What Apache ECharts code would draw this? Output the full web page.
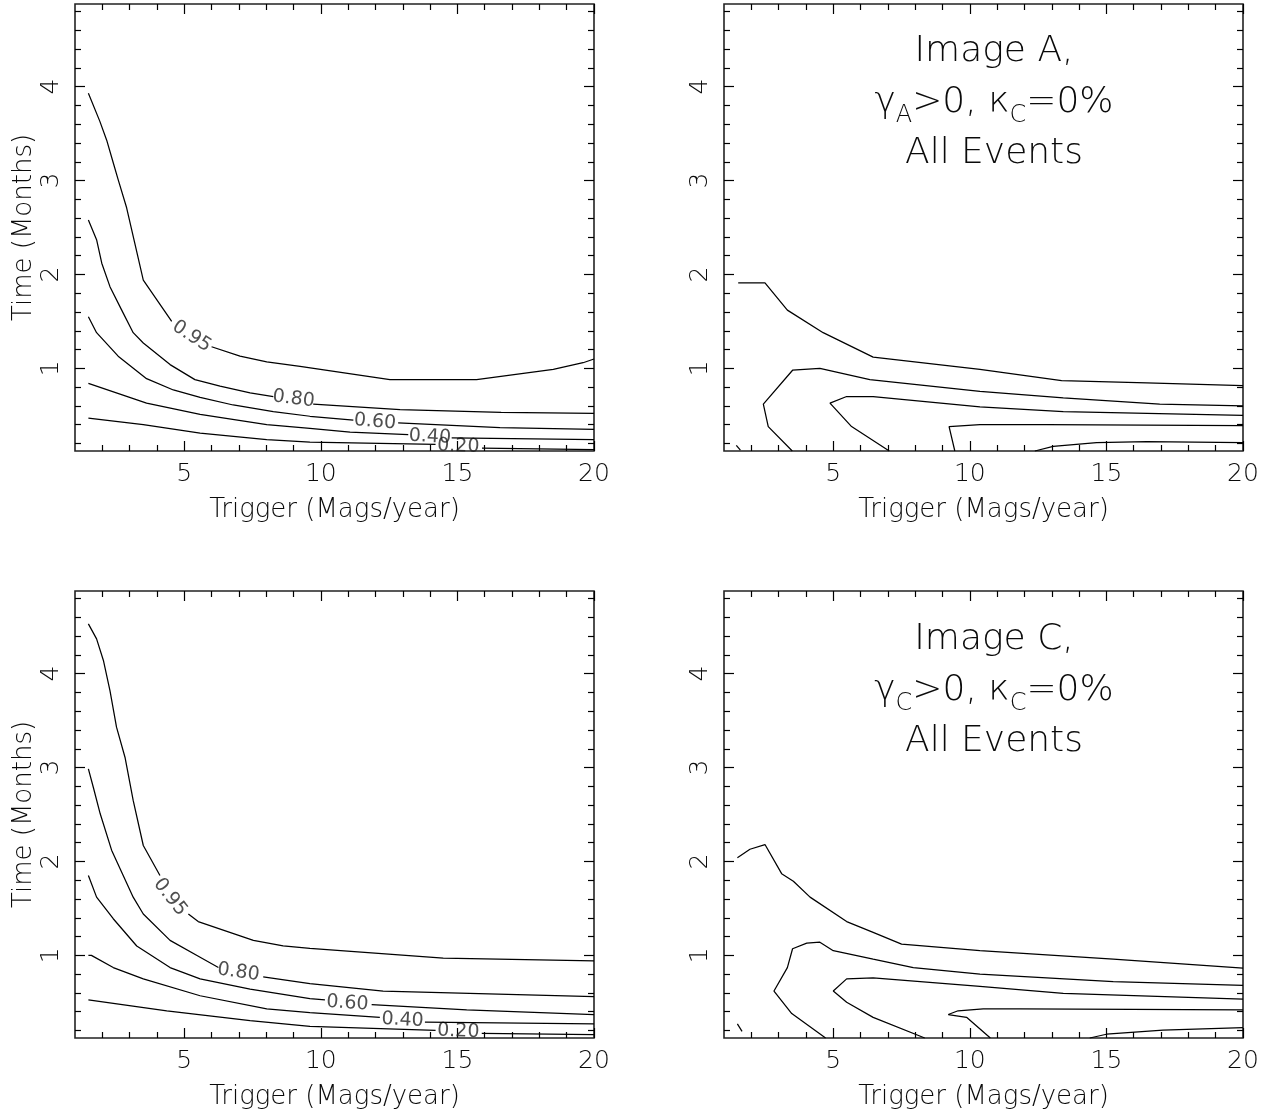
<!DOCTYPE html>
<html>
<head>
<meta charset="utf-8">
<script src="https://cdn.jsdelivr.net/npm/echarts@6/dist/echarts.min.js"></script>
<style>html,body{margin:0;padding:0;background:#fff;}#chart{width:1267px;height:1114px;}</style>
</head>
<body>
<div id="chart"></div>
<script>
// ---------- axis data ----------
const xMin = 1, xMax = 20;
const yMin = 0.12, yMax = 4.88;
const xMajorTicks = [5, 10, 15, 20];
const xMinorTicks = [2, 3, 4, 6, 7, 8, 9, 11, 12, 13, 14, 16, 17, 18, 19];
const yMajorTicks = [1, 2, 3, 4];
const yMinorTicks = [0.2, 0.4, 0.6, 0.8, 1.2, 1.4, 1.6, 1.8, 2.2, 2.4, 2.6, 2.8, 3.2, 3.4, 3.6, 3.8, 4.2, 4.4, 4.6, 4.8];
const xAxisName = 'Trigger (Mags/year)';
const yAxisName = 'Time (Months)';

// ---------- top-left panel contours (null = gap for inline label) ----------
const tl95 = [[1.49,3.93],[1.91,3.63],[2.16,3.43],[2.40,3.19],[2.58,3.01],[2.89,2.71],[3.19,2.33],[3.50,1.94],[4.54,1.50],null,[6.0,1.23],[7.04,1.13],[8.02,1.07],[9.24,1.02],[12.53,0.88],[15.7,0.88],[18.51,0.99],[19.6,1.06],[20,1.10]];
const tl80 = [[1.49,2.58],[1.79,2.37],[1.98,2.12],[2.28,1.87],[2.71,1.62],[3.13,1.38],[3.50,1.27],[4.48,1.04],[5.39,0.88],[6.31,0.81],[7.41,0.74],[8.26,0.70],null,[9.72,0.62],[12.9,0.56],[16.6,0.53],[20,0.52]];
const tl60 = [[1.49,1.55],[1.79,1.38],[2.58,1.13],[3.62,0.89],[4.60,0.77],[5.58,0.69],[6.79,0.61],[8.26,0.54],[9.6,0.49],[11.19,0.45],null,[12.83,0.42],[16.56,0.37],[20,0.35]];
const tl40 = [[1.49,0.84],[3.62,0.63],[5.58,0.51],[8.02,0.40],[9.6,0.36],[11.07,0.32],[13.2,0.295],null,[14.79,0.26],[20,0.24]];
const tl20 = [[1.49,0.47],[3.50,0.40],[5.58,0.31],[8.02,0.24],[9.6,0.215],[14.2,0.19],null,[15.9,0.15],[20,0.135]];
const tlLabelText = ['0.95', '0.80', '0.60', '0.40', '0.20'];
const tlLabelPos = [[5.27,1.34],[9.0,0.675],[11.98,0.43],[13.99,0.27],[15.03,0.17]];
const tlLabelRot = [-33, -7, -5, -3, -2];

// ---------- top-right panel contours ----------
const trA = [[1.52,1.91],[2.50,1.91],[3.32,1.62],[4.63,1.38],[6.46,1.12],[10.37,0.99],[13.36,0.87],[16.47,0.845],[20,0.815]];
const trB = [[3.5,0.12],[2.62,0.38],[2.44,0.62],[3.51,0.98],[4.51,1.00],[6.34,0.88],[10.37,0.755],[13.42,0.685],[16.95,0.62],[20,0.60]];
const trC = [[7.05,0.12],[5.67,0.38],[4.88,0.63],[5.49,0.70],[6.46,0.70],[10.37,0.59],[13.42,0.54],[20,0.50]];
const trD = [[9.45,0.12],[9.24,0.38],[10.37,0.40],[12.81,0.40],[20,0.39]];
const trE = [[12.38,0.12],[13.05,0.17],[14.64,0.21],[16.47,0.22],[20,0.21]];
const trF = [[1.45,0.18],[1.6,0.13]];

// ---------- bottom-left panel contours ----------
const bl95 = [[1.49,4.53],[1.79,4.37],[2.04,4.14],[2.28,3.82],[2.52,3.43],[2.83,3.11],[3.13,2.65],[3.50,2.17],[4.11,1.85],null,[5.15,1.44],[5.51,1.36],[7.53,1.16],[8.62,1.10],[9.6,1.075],[14.48,0.97],[20,0.94]];
const bl80 = [[1.49,2.985],[1.67,2.79],[1.92,2.51],[2.34,2.12],[3.13,1.62],[3.50,1.44],[4.48,1.16],[5.58,0.98],[6.25,0.87],null,[7.89,0.77],[9.6,0.70],[12.28,0.62],[20,0.56]];
const bl60 = [[1.49,1.85],[1.79,1.62],[2.40,1.39],[3.26,1.10],[4.48,0.87],[5.58,0.75],[7.41,0.64],[9.6,0.54],[10.15,0.525],null,[11.86,0.475],[15.34,0.42],[20,0.37]];
const bl40 = [[1.49,1.00],[1.6,1.00],[2.40,0.87],[3.50,0.75],[5.58,0.57],[8.02,0.43],[9.6,0.39],[12.16,0.34],null,[13.81,0.29],[20,0.27]];
const bl20 = [[1.49,0.525],[4.36,0.41],[7.41,0.305],[9.6,0.245],[14.2,0.20],null,[15.89,0.17],[20,0.155]];
const blLabelText = ['0.95', '0.80', '0.60', '0.40', '0.20'];
const blLabelPos = [[4.48,1.62],[6.98,0.82],[10.97,0.49],[12.99,0.31],[15.03,0.19]];
const blLabelRot = [-52, -8, -4, -3, -2];

// ---------- bottom-right panel contours ----------
const brA = [[1.49,2.04],[1.95,2.13],[2.50,2.18],[3.11,1.87],[3.54,1.79],[4.15,1.62],[5.49,1.36],[6.46,1.245],[7.50,1.12],[10.37,1.05],[15.25,0.96],[20,0.865]];
const brB = [[4.72,0.12],[3.48,0.38],[2.83,0.62],[3.32,0.87],[3.51,1.07],[4.03,1.13],[4.51,1.14],[5.0,1.05],[6.46,0.96],[7.93,0.87],[10.37,0.80],[15.25,0.72],[20,0.68]];
const brC = [[8.35,0.12],[6.46,0.34],[5.49,0.50],[5.0,0.62],[5.49,0.75],[6.46,0.76],[10.37,0.67],[13.42,0.595],[20,0.535]];
const brD = [[10.75,0.12],[9.88,0.34],[9.21,0.37],[9.57,0.41],[10.49,0.43],[11.83,0.43],[20,0.42]];
const brE = [[14.39,0.12],[15.0,0.16],[17.07,0.205],[20,0.23]];
const brF = [[1.49,0.27],[1.66,0.19]];

// ---------- panel titles ----------
const trTitle = '{n|Image A,}\n{n|γ}{s|A}{n|>0, κ}{s|C}{n|=0%}\n{n|All Events}';
const brTitle = '{n|Image C,}\n{n|γ}{s|C}{n|>0, κ}{s|C}{n|=0%}\n{n|All Events}';

// ---------- build ----------
const FONT = 'DejaVu Sans';
const FW = 200;
const INK = '#0a0a0a';
const panels = [
  { left: 75,  top: 4,   yName: true,  lines: [tl95, tl80, tl60, tl40, tl20], labels: [tlLabelText, tlLabelPos, tlLabelRot] },
  { left: 724, top: 4,   yName: false, lines: [trA, trB, trC, trD, trE, trF], labels: null },
  { left: 75,  top: 591, yName: true,  lines: [bl95, bl80, bl60, bl40, bl20], labels: [blLabelText, blLabelPos, blLabelRot] },
  { left: 724, top: 591, yName: false, lines: [brA, brB, brC, brD, brE, brF], labels: null }
];

const grids = [], xAxes = [], yAxes = [], series = [];
const tickLine = { color: '#000', width: 1.2 };

panels.forEach((p, gi) => {
  grids.push({ left: p.left, top: p.top, width: 519, height: 447, show: true, borderColor: '#222', borderWidth: 1.6, backgroundColor: 'transparent', containLabel: false, outerBoundsMode: 'none' });
  const mainX = xAxes.length;
  xAxes.push({ gridIndex: gi, type: 'value', min: xMin, max: xMax, position: 'bottom',
    axisLine: { show: false }, splitLine: { show: false },
    axisTick: { show: true, inside: true, length: 10, customValues: xMajorTicks, lineStyle: tickLine },
    axisLabel: { show: true, customValues: xMajorTicks, margin: 11, fontSize: 25, fontFamily: FONT, fontWeight: FW, color: INK },
    name: xAxisName, nameLocation: 'middle', nameGap: 46, nameMoveOverlap: false,
    nameTextStyle: { fontSize: 26, fontFamily: FONT, fontWeight: FW, color: INK } });
  xAxes.push({ gridIndex: gi, type: 'value', min: xMin, max: xMax, position: 'bottom',
    axisLine: { show: false }, splitLine: { show: false }, axisLabel: { show: false },
    axisTick: { show: true, inside: true, length: 6, customValues: xMinorTicks, lineStyle: tickLine } });
  xAxes.push({ gridIndex: gi, type: 'value', min: xMin, max: xMax, position: 'top',
    axisLine: { show: false }, splitLine: { show: false }, axisLabel: { show: false },
    axisTick: { show: true, inside: true, length: 10, customValues: xMajorTicks, lineStyle: tickLine } });
  xAxes.push({ gridIndex: gi, type: 'value', min: xMin, max: xMax, position: 'top',
    axisLine: { show: false }, splitLine: { show: false }, axisLabel: { show: false },
    axisTick: { show: true, inside: true, length: 6, customValues: xMinorTicks, lineStyle: tickLine } });

  const mainY = yAxes.length;
  const yMain = { gridIndex: gi, type: 'value', min: yMin, max: yMax, position: 'left',
    axisLine: { show: false }, splitLine: { show: false },
    axisTick: { show: true, inside: true, length: 10, customValues: yMajorTicks, lineStyle: tickLine },
    axisLabel: { show: true, customValues: yMajorTicks, rotate: 90, margin: 11, fontSize: 25, fontFamily: FONT, fontWeight: FW, color: INK } };
  if (p.yName) {
    Object.assign(yMain, { name: yAxisName, nameLocation: 'middle', nameGap: 38, nameMoveOverlap: false,
      nameTextStyle: { fontSize: 26, fontFamily: FONT, fontWeight: FW, color: INK } });
  }
  yAxes.push(yMain);
  yAxes.push({ gridIndex: gi, type: 'value', min: yMin, max: yMax, position: 'left',
    axisLine: { show: false }, splitLine: { show: false }, axisLabel: { show: false },
    axisTick: { show: true, inside: true, length: 6, customValues: yMinorTicks, lineStyle: tickLine } });
  yAxes.push({ gridIndex: gi, type: 'value', min: yMin, max: yMax, position: 'right',
    axisLine: { show: false }, splitLine: { show: false }, axisLabel: { show: false },
    axisTick: { show: true, inside: true, length: 10, customValues: yMajorTicks, lineStyle: tickLine } });
  yAxes.push({ gridIndex: gi, type: 'value', min: yMin, max: yMax, position: 'right',
    axisLine: { show: false }, splitLine: { show: false }, axisLabel: { show: false },
    axisTick: { show: true, inside: true, length: 6, customValues: yMinorTicks, lineStyle: tickLine } });

  p.lines.forEach(arr => {
    let seg = [];
    const flush = () => {
      if (seg.length > 1) {
        series.push({ type: 'line', xAxisIndex: mainX, yAxisIndex: mainY, data: seg, showSymbol: false, symbol: 'none',
          lineStyle: { color: '#000', width: 1.25 }, silent: true, animation: false, clip: true });
      }
      seg = [];
    };
    arr.forEach(pt => { if (pt === null) flush(); else seg.push(pt); });
    flush();
  });

  if (p.labels) {
    const [txt, pos, rot] = p.labels;
    series.push({ type: 'scatter', xAxisIndex: mainX, yAxisIndex: mainY, symbolSize: 0, silent: true, animation: false, clip: false,
      data: pos.map((q, i) => ({ value: q, label: { show: true, formatter: txt[i], rotate: rot[i], position: 'inside',
        fontSize: 19, fontFamily: FONT, fontWeight: 'normal', color: '#222' } })) });
  }
});

const richStyles = {
  n: { fontSize: 36, lineHeight: 51, fontFamily: FONT, fontWeight: FW, color: INK },
  s: { fontSize: 24, lineHeight: 26, verticalAlign: 'bottom', fontFamily: FONT, fontWeight: FW, color: INK }
};

const option = {
  backgroundColor: '#fff',
  animation: false,
  title: [
    { left: 994, top: 26, textAlign: 'center', padding: 0, text: trTitle, textStyle: { rich: richStyles, fontSize: 36, lineHeight: 51, fontWeight: FW } },
    { left: 994, top: 614, textAlign: 'center', padding: 0, text: brTitle, textStyle: { rich: richStyles, fontSize: 36, lineHeight: 51, fontWeight: FW } }
  ],
  grid: grids,
  xAxis: xAxes,
  yAxis: yAxes,
  series: series
};

const chart = echarts.init(document.getElementById('chart'), null, { renderer: 'canvas' });
chart.setOption(option);
</script>
</body>
</html>
